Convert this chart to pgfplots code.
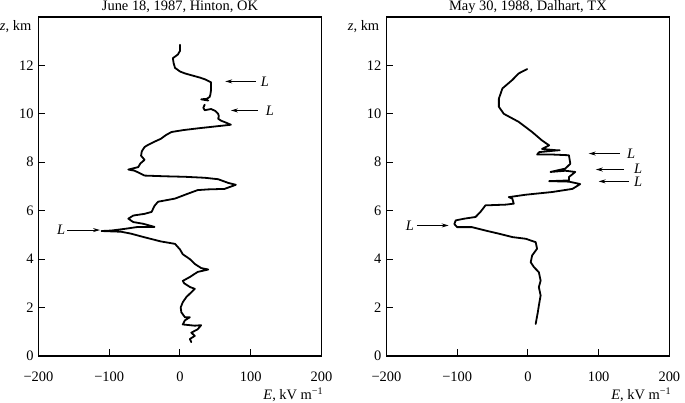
\documentclass[border=0pt]{standalone}
\usepackage{fontspec}
\setmainfont{Liberation Serif}
\usepackage{pgfplots}
\pgfplotsset{compat=1.18}
\usetikzlibrary{arrows.meta}
\tikzset{arr/.style={line width=0.9bp, -{Stealth[length=7bp,width=4bp]}}}
\begin{document}
\fontsize{14.5}{17}\selectfont
\begin{tikzpicture}
\pgfplotsset{
 panel/.style={
  width=283bp, height=339bp, scale only axis,
  xmin=-200,xmax=200,ymin=0,ymax=14,
  xtick={-200,-100,0,100,200},
  xticklabels={−200,−100,0,100,200},
  ytick={0,2,4,6,8,10,12},
  yticklabels={0,2,4,6,8,10,12},
  tick align=inside, tick pos=left,
  major tick length=7bp,
  axis line style={line width=1.2bp},
  every tick/.style={line width=1bp, black},
  tick label style={font=\fontsize{14.5}{17}\selectfont},
  xticklabel style={yshift=-11bp},
  every axis title shift=0pt,
  title style={at={(0.5,1)}, anchor=base, yshift=7bp, inner sep=0pt, font=\fontsize{14.5}{17}\selectfont},
  clip=false,
 },
 curve/.style={black, line width=1.8bp, line join=round, line cap=round},
}
\begin{axis}[panel, name=A, title={June 18, 1987, Hinton, OK}]
\addplot[curve] coordinates {
(0,12.85)(0,12.6)(-3,12.45)(-10,12.3)(-9,12.1)(-7,11.9)(0,11.75)(7,11.67)(18,11.58)(28,11.5)(36,11.42)(44,11.3)(44,11.1)(44,11.0)(43,10.8)(42,10.7)(38,10.62)(30,10.6)(40,10.55)
};
\addplot[curve] coordinates {
(35,10.38)(33,10.25)(35,10.15)(44,10.2)(50,10.12)(54,10.0)(55,9.9)(54,9.8)(58,9.72)(64,9.65)(72,9.55)(50,9.48)(25,9.4)(5,9.33)(-12,9.25)(-20,9.12)(-27,8.97)(-36,8.85)(-45,8.72)(-50,8.63)(-54,8.45)(-55,8.27)(-50,8.1)(-56,7.95)(-59,7.8)(-73,7.7)(-64,7.65)(-50,7.45)(-20,7.42)(7,7.4)(35,7.36)(54,7.3)(68,7.15)(79,7.07)(63,6.9)(40,6.88)(25,6.85)(11,6.7)(-7,6.5)(-31,6.37)(-36,6.2)(-38,6.08)(-40,5.95)(-50,5.87)(-66,5.8)(-73,5.67)(-66,5.53)(-52,5.46)(-36,5.33)(-59,5.33)(-78,5.25)(-97,5.18)(-111,5.16)(-83,5.13)(-69,5.05)(-50,4.9)(-27,4.73)(-7,4.63)(0,4.4)(4,4.2)(14,4.0)(21,3.8)(30,3.63)(40,3.57)(25,3.47)(14,3.26)(4,3.1)(6,3.0)(14,2.85)(21,2.77)(16,2.63)(9,2.43)(4,2.22)(1,2.0)(2,1.8)(7,1.6)(14,1.6)(7,1.47)(4,1.3)(21,1.25)(30,1.27)(25,1.1)(16,0.96)(21,0.83)(14,0.7)(16,0.57)
};
\draw[arr] (axis cs:107,11.34) -- (axis cs:64,11.34);
\node[anchor=west, inner sep=0pt] at (axis cs:114,11.34) {\textit{L}};
\draw[arr] (axis cs:110,10.14) -- (axis cs:72,10.14);
\node[anchor=west, inner sep=0pt] at (axis cs:121,10.14) {\textit{L}};
\draw[arr] (axis cs:-159,5.2) -- (axis cs:-113,5.2);
\node[anchor=east, inner sep=0pt] at (axis cs:-162,5.2) {\textit{L}};
\node[anchor=east, inner sep=0pt] at ([xshift=-7bp,yshift=-10bp]rel axis cs:0,1) {\textit{z}, km};
\node[anchor=base east, inner sep=0pt] at ([xshift=2bp,yshift=-44bp]rel axis cs:1,0) {\textit{E}, kV m\textsuperscript{−1}};
\end{axis}
\begin{axis}[panel, at={(348bp,0)}, title={May 30, 1988, Dalhart, TX}]
\addplot[curve] coordinates {
(-1,11.85)(-13,11.67)(-22,11.4)(-36,11.05)(-41,10.63)(-41,10.29)(-34,10.0)(-13,9.67)(6,9.25)(20,8.9)(30,8.7)(20,8.55)(39,8.5)(45,8.5)(16,8.42)(13,8.32)(34,8.32)(58,8.29)(60,7.94)(53,7.74)(32,7.6)(53,7.65)(67,7.6)(58,7.39)(58,7.25)(30,7.22)(58,7.2)(74,7.1)(63,6.9)(34,6.77)(-3,6.66)(-27,6.56)(-22,6.5)(-20,6.29)(-31.5,6.25)(-60,6.22)(-67,5.95)(-74,5.74)(-90,5.67)(-102,5.6)(-104,5.45)(-100,5.32)(-79,5.32)(-60,5.18)(-41,5.05)(-22,4.91)(-3,4.84)(11,4.7)(13,4.43)(6,4.15)(4,3.87)(8.5,3.67)(15.5,3.46)(18,3.11)(15.5,2.84)(18,2.5)(15.5,2.08)(14,1.8)(11,1.32)
};
\draw[arr] (axis cs:130,8.36) -- (axis cs:86,8.36);
\node[anchor=west, inner sep=0pt] at (axis cs:140,8.36) {\textit{L}};
\draw[arr] (axis cs:136,7.70) -- (axis cs:96,7.70);
\node[anchor=west, inner sep=0pt] at (axis cs:150,7.74) {\textit{L}};
\draw[arr] (axis cs:143,7.21) -- (axis cs:100,7.21);
\node[anchor=west, inner sep=0pt] at (axis cs:150,7.19) {\textit{L}};
\draw[arr] (axis cs:-157,5.39) -- (axis cs:-112,5.39);
\node[anchor=east, inner sep=0pt] at (axis cs:-161,5.39) {\textit{L}};
\node[anchor=east, inner sep=0pt] at ([xshift=-7bp,yshift=-10bp]rel axis cs:0,1) {\textit{z}, km};
\node[anchor=base east, inner sep=0pt] at ([xshift=2bp,yshift=-44bp]rel axis cs:1,0) {\textit{E}, kV m\textsuperscript{−1}};
\end{axis}
\end{tikzpicture}
\end{document}
